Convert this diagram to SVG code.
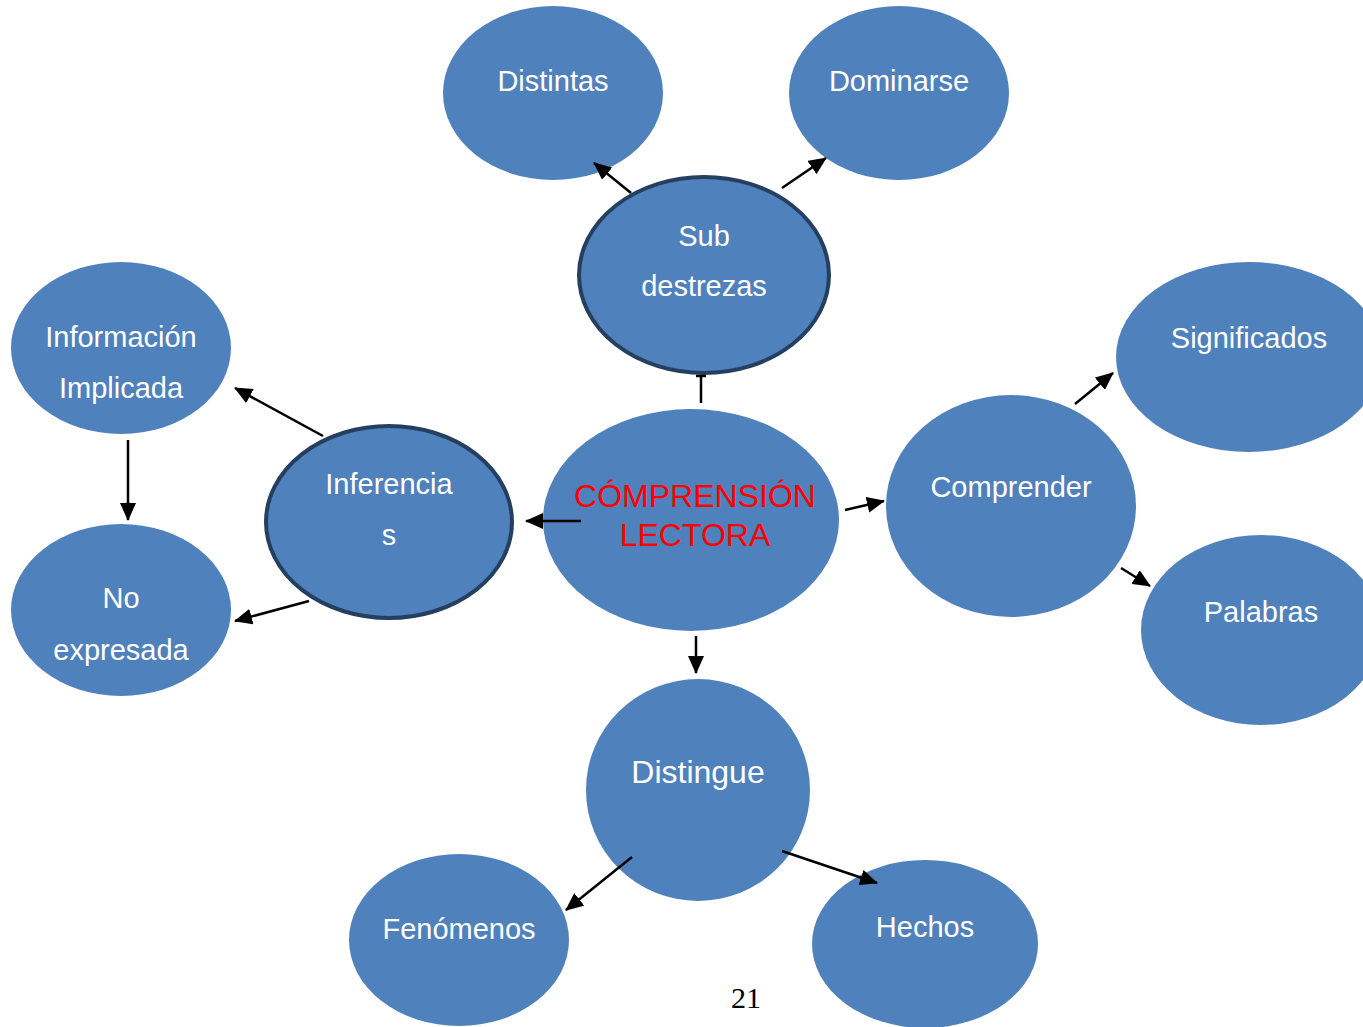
<svg xmlns="http://www.w3.org/2000/svg" width="1363" height="1027" viewBox="0 0 1363 1027">
<style>
.n{fill:#4f81bd}
.b{stroke:#243f60;stroke-width:4}
.t{font-family:"Liberation Sans",Arial,sans-serif;font-size:29px;fill:#fff;text-anchor:middle}
.r{font-family:"Liberation Sans",Arial,sans-serif;font-size:32px;fill:#ff0000;text-anchor:middle}
.c{stroke:#000;stroke-width:2.5;fill:none}
</style>
<defs>
<marker id="ah" markerWidth="18" markerHeight="16" refX="17" refY="8" orient="auto" markerUnits="userSpaceOnUse">
<path d="M0,0 L18,8 L0,16 Z" fill="#000"/>
</marker>
</defs>
<rect width="1363" height="1027" fill="#fff"/>
<g id="distintas"><ellipse class="n" cx="553" cy="93" rx="110" ry="87"/><text class="t" x="553" y="91">Distintas</text></g>
<g id="dominarse"><ellipse class="n" cx="899" cy="93" rx="110" ry="87"/><text class="t" x="899" y="91">Dominarse</text></g>
<g id="subdestrezas"><ellipse class="n b" cx="704" cy="275" rx="125" ry="98"/><text class="t" x="704" y="246">Sub</text><text class="t" x="704" y="296">destrezas</text></g>
<g id="informacion"><ellipse class="n" cx="121" cy="348" rx="110" ry="86"/><text class="t" x="121" y="347">Información</text><text class="t" x="121" y="398">Implicada</text></g>
<g id="inferencias"><ellipse class="n b" cx="389" cy="522" rx="123" ry="96"/><text class="t" x="389" y="494">Inferencia</text><text class="t" x="389" y="545">s</text></g>
<g id="noexpresada"><ellipse class="n" cx="121" cy="610" rx="110" ry="86"/><text class="t" x="121" y="608">No</text><text class="t" x="121" y="660">expresada</text></g>
<g id="comprension"><ellipse class="n" cx="691" cy="520" rx="148" ry="111"/><text class="r" x="695" y="507">CÓMPRENSIÓN</text><text class="r" x="695" y="546">LECTORA</text></g>
<g id="comprender"><ellipse class="n" cx="1011" cy="506" rx="125" ry="111"/><text class="t" x="1011" y="497">Comprender</text></g>
<g id="significados"><ellipse class="n" cx="1249" cy="357" rx="133" ry="95"/><text class="t" x="1249" y="348">Significados</text></g>
<g id="palabras"><ellipse class="n" cx="1261" cy="630" rx="120" ry="95"/><text class="t" x="1261" y="622">Palabras</text></g>
<g id="distingue"><ellipse class="n" cx="698" cy="790" rx="112" ry="111"/><text class="t" x="698" y="783" style="font-size:32px">Distingue</text></g>
<g id="fenomenos"><ellipse class="n" cx="459" cy="940" rx="110" ry="86"/><text class="t" x="459" y="939">Fenómenos</text></g>
<g id="hechos"><ellipse class="n" cx="925" cy="944" rx="113" ry="84"/><text class="t" x="925" y="937">Hechos</text></g>
<g id="connectors">
<line class="c" x1="631" y1="193" x2="594" y2="163" marker-end="url(#ah)"/>
<line class="c" x1="782" y1="188" x2="826" y2="158" marker-end="url(#ah)"/>
<line class="c" x1="701" y1="403" x2="701" y2="376"/>
<line class="c" x1="696" y1="376" x2="706" y2="376"/>
<line class="c" x1="323" y1="436" x2="235" y2="388" marker-end="url(#ah)"/>
<line class="c" x1="128" y1="440" x2="128" y2="520" marker-end="url(#ah)"/>
<line class="c" x1="309" y1="601" x2="235" y2="621" marker-end="url(#ah)"/>
<line class="c" x1="581" y1="521" x2="526" y2="521" marker-end="url(#ah)"/>
<line class="c" x1="845" y1="510" x2="884" y2="501" marker-end="url(#ah)"/>
<line class="c" x1="1075" y1="404" x2="1113" y2="373" marker-end="url(#ah)"/>
<line class="c" x1="1121" y1="568" x2="1150" y2="586" marker-end="url(#ah)"/>
<line class="c" x1="696" y1="636" x2="696" y2="673" marker-end="url(#ah)"/>
<line class="c" x1="632" y1="857" x2="566" y2="910" marker-end="url(#ah)"/>
<line class="c" x1="782" y1="851" x2="877" y2="883" marker-end="url(#ah)"/>
</g>
<text x="746" y="1008" font-family="'Liberation Serif','Times New Roman',serif" font-size="30" text-anchor="middle" fill="#000">21</text>
</svg>
